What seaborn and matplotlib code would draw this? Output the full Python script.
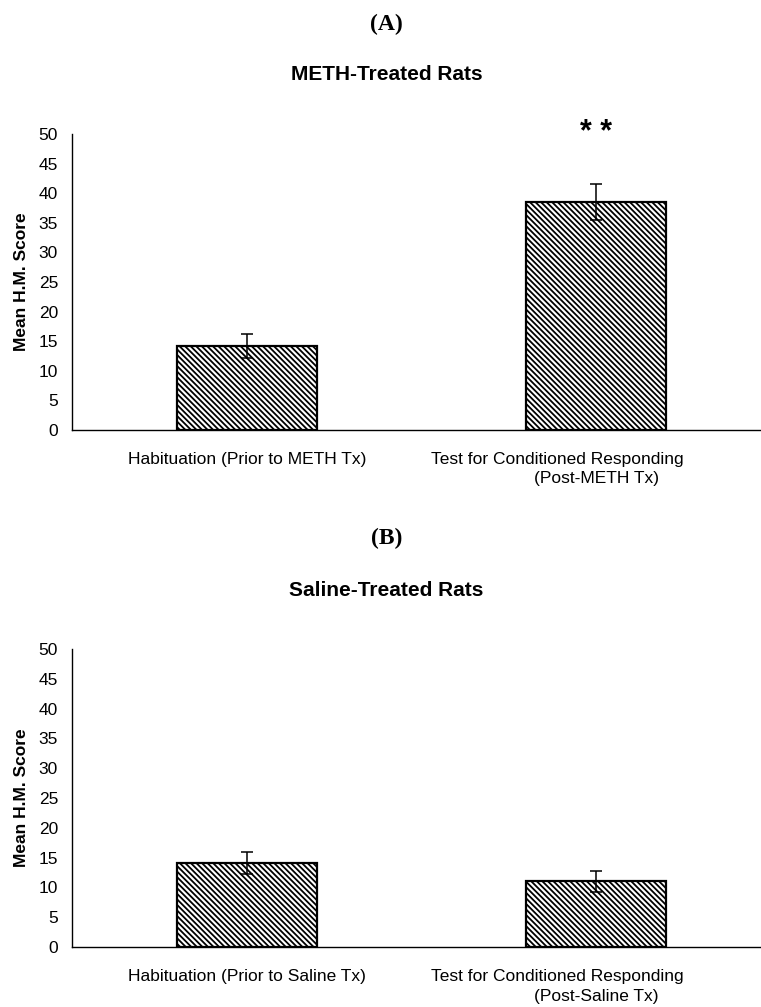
import matplotlib
matplotlib.use('Agg')
import matplotlib.pyplot as plt
import seaborn as sns
import pandas as pd

# data
meth_phases = ['Habituation (Prior to METH Tx)', 'Test for Conditioned Responding']
meth_means = [14.2, 38.5]
meth_err = [2.0, 3.0]

saline_phases = ['Habituation (Prior to Saline Tx)', 'Test for Conditioned Responding']
saline_means = [14.1, 11.0]
saline_err = [1.9, 1.8]

second_lines = ['(Post-METH Tx)', '(Post-Saline Tx)']

sns.set_style('white')
plt.rcParams['font.family'] = ['Liberation Sans', 'DejaVu Sans']
plt.rcParams['text.color'] = 'black'
plt.rcParams['axes.labelcolor'] = 'black'
plt.rcParams['xtick.color'] = 'black'
plt.rcParams['ytick.color'] = 'black'
plt.rcParams['hatch.linewidth'] = 1.3
plt.rcParams['hatch.color'] = 'black'

fig = plt.figure(figsize=(7.61, 10.07), dpi=100)
ax_a = fig.add_axes([0.0946, 0.573, 0.9185, 0.294])
ax_b = fig.add_axes([0.0946, 0.0596, 0.9185, 0.296])


def draw_panel(ax, phases, means, errs, post_label):
    df = pd.DataFrame({'Phase': [f'{i}_{p}' for i, p in enumerate(phases)], 'Score': means})
    sns.barplot(data=df, x='Phase', y='Score', ax=ax, color='white',
                edgecolor='black', linewidth=1.6, width=0.4, hatch='\\\\\\\\\\\\',
                errorbar=None)
    ax.errorbar(range(len(means)), means, yerr=errs, fmt='none', ecolor='black',
                elinewidth=1.1, capsize=4, capthick=1.1)
    ax.set_ylim(0, 50)
    ax.set_xlim(-0.5, 1.5)
    ax.set_yticks(range(0, 51, 5))
    ax.set_ylabel('Mean H.M. Score', fontsize=12.5, fontweight='bold', labelpad=7)
    ax.set_xlabel('')
    ax.set_xticks([0.5])
    ax.set_xticklabels([''])
    ax.tick_params(axis='x', direction='out', length=4, width=0.8)
    ax.tick_params(axis='y', direction='out', length=5, width=0.8,
                   labelsize=12.5, pad=5)
    for s in ['top', 'right']:
        ax.spines[s].set_visible(False)
    for s in ['left', 'bottom']:
        ax.spines[s].set_color('black')
        ax.spines[s].set_linewidth(1.0)
    trans = ax.get_xaxis_transform()
    ax.text(0, -0.1, phases[0], transform=trans, ha='center', va='center', fontsize=12.5)
    ax.text(1 - 0.11, -0.1, phases[1], transform=trans, ha='center', va='center', fontsize=12.5)
    ax.text(1, -0.165, post_label, transform=trans, ha='center', va='center', fontsize=12.5)


draw_panel(ax_a, meth_phases, meth_means, meth_err, second_lines[0])
draw_panel(ax_b, saline_phases, saline_means, saline_err, second_lines[1])

# significance mark
ax_a.text(1, 50.2, '* *', ha='center', va='center', fontsize=22, fontweight='bold')

fig.text(0.508, 1 - 24 / 1007, '(A)', ha='center', va='center', fontsize=17,
         fontweight='bold', family='Liberation Serif')
fig.text(0.508, 1 - 75 / 1007, 'METH-Treated Rats', ha='center', va='center',
         fontsize=15, fontweight='bold')
fig.text(0.508, 1 - 538 / 1007, '(B)', ha='center', va='center', fontsize=17,
         fontweight='bold', family='Liberation Serif')
fig.text(0.508, 1 - 591 / 1007, 'Saline-Treated Rats', ha='center', va='center',
         fontsize=15, fontweight='bold')

fig.savefig('out.png', dpi=100, facecolor='white')
